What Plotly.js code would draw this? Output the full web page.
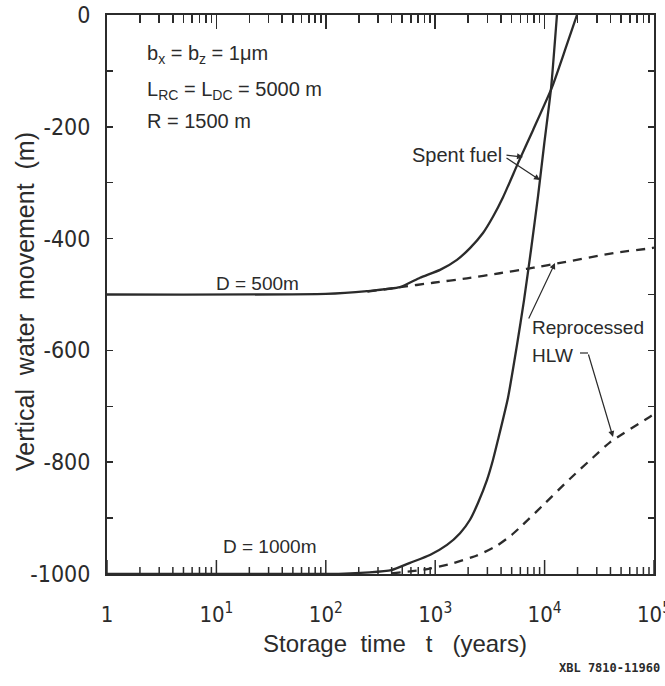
<!DOCTYPE html>
<html>
<head>
<meta charset="utf-8">
<script src="https://cdn.plot.ly/plotly-3.0.1.min.js"></script>
<style>
html,body{margin:0;padding:0;background:#fff;}
#chart{width:665px;height:686px;}
</style>
</head>
<body>
<div id="chart"></div>
<script>
// Spent fuel, D = 500 m
const spent500_t = [1, 100, 238, 476, 726, 1107, 1581, 2080, 2735, 3373, 4169, 5715, 7834, 11700, 15350, 19770];
const spent500_v = [-500, -499, -494, -487, -470, -456, -438, -417, -390, -361, -326, -265, -206, -129, -63, 0];
// Spent fuel, D = 1000 m
const spent1000_t = [1, 100, 251, 398, 589, 895, 1282, 1687, 2080, 2460, 2972, 3373, 3750, 4624, 5598, 6486, 7516, 8710, 9886, 11460, 12970];
const spent1000_v = [-1000, -1000, -997, -993, -980, -966, -948, -927, -903, -873, -832, -796, -760, -685, -590, -510, -420, -324, -233, -131, 0];
// Reprocessed HLW, D = 500 m
const hlw500_t = [240, 479, 955, 1950, 3890, 6920, 9120, 12600, 45700, 95500, 100000];
const hlw500_v = [-495, -487, -479, -471, -462, -454, -450, -445, -425, -417, -416];
// Reprocessed HLW, D = 1000 m
const hlw1000_t = [398, 794, 1380, 2400, 3630, 5010, 6310, 9550, 16980, 27540, 39810, 91200, 100000];
const hlw1000_v = [-999, -992, -982, -967, -950, -930, -912, -878, -830, -792, -764, -719, -714];

const xTickVals = [1, 10, 100, 1000, 10000, 100000];
const xTickText = ["1", "10<sup>1</sup>", "10<sup>2</sup>", "10<sup>3</sup>", "10<sup>4</sup>", "10<sup>5</sup>"];
const yTickVals = [0, -200, -400, -600, -800, -1000];
const yTickText = ["0", "-200", "-400", "-600", "-800", "-1000"];

const ink = '#2b2b2b';
const narrow = '"Liberation Sans Narrow", "DejaVu Sans Condensed", "Liberation Sans", sans-serif';
const sans = '"Liberation Sans", Arial, "DejaVu Sans", sans-serif';

const L = 107, R = 654, T = 15, B = 574;
const px = x => (x - L) / (R - L);
const py = y => (B - y) / (B - T);

const solid = {color: ink, width: 2.3, shape: 'spline', smoothing: 0.5};
const dashed = {color: ink, width: 2.3, dash: '9px,7px', shape: 'spline', smoothing: 0.5};

const traces = [
  {x: spent500_t, y: spent500_v, mode: 'lines', line: solid, hoverinfo: 'skip'},
  {x: spent1000_t, y: spent1000_v, mode: 'lines', line: solid, hoverinfo: 'skip'},
  {x: hlw500_t, y: hlw500_v, mode: 'lines', line: dashed, hoverinfo: 'skip'},
  {x: hlw1000_t, y: hlw1000_v, mode: 'lines', line: dashed, hoverinfo: 'skip'},
  {x: [], y: [], xaxis: 'x2', mode: 'lines', hoverinfo: 'skip'}
];

function txt(text, x, y, size, anchor, extra) {
  return Object.assign({text: text, xref: 'paper', yref: 'paper', x: px(x), y: py(y),
    xanchor: anchor || 'left', yanchor: 'middle', showarrow: false,
    font: {family: sans, size: size, color: ink}}, extra || {});
}
function arrow(hx, hy, tx, ty) {
  return {text: '', xref: 'paper', yref: 'paper', x: px(hx), y: py(hy),
    ax: tx - hx, ay: ty - hy, showarrow: true, arrowhead: 2, arrowsize: 1,
    arrowwidth: 1.2, arrowcolor: ink, standoff: 0, startstandoff: 0};
}

const nb = '\u00a0';
const annotations = [
  txt('b<sub>x</sub> = b<sub>z</sub> = 1μm', 145, 54, 20),
  txt('L<sub>RC</sub> = L<sub>DC</sub> = 5000 m', 145, 90, 20),
  txt('R = 1500 m', 145, 121, 20),
  txt('D = 500m', 214, 283, 19),
  txt('D = 1000m', 221, 546, 19),
  txt('Spent fuel', 504, 155, 20, 'right'),
  txt('Reprocessed', 530, 327, 19),
  txt('HLW', 530, 355, 19),
  arrow(523, 157, 505, 155),
  arrow(540, 180, 505, 157),
  arrow(555, 263, 528, 320),
  arrow(613, 437, 588, 353),
  txt('Vertical' + nb + ' water' + nb + ' movement' + nb + ' (m)', 25, 302, 25, 'center', {textangle: -90}),
  txt('Storage' + nb + nb + 'time' + nb + nb + ' t ' + nb + nb + '(years)', 395, 643, 24, 'center'),
  txt('<b>XBL 7810-11960</b>', 662, 668, 12, 'right', {font: {family: '"DejaVu Sans Mono", "Liberation Mono", monospace', size: 12, color: ink}})
];

// log-axis tick positions in decades (exponent units), for the bottom shapes and the top helper axis
const majorPos = [], minorPos = [];
for (let d = 0; d <= 5; d++) {
  for (let k = 1; k <= 9; k++) {
    if (d === 5 && k > 1) break;
    (k === 1 ? majorPos : minorPos).push(d + Math.log10(k));
  }
}

const shapes = [
  {type: 'line', xref: 'paper', yref: 'paper', x0: px(580), x1: px(588), y0: py(353), y1: py(353),
   line: {color: ink, width: 1.2}}
];
const H = B - T;
majorPos.concat(minorPos).forEach(p => {
  const xp = p / 5;
  const major = majorPos.indexOf(p) >= 0;
  shapes.push({type: 'line', xref: 'paper', yref: 'paper',
    x0: xp, x1: xp, y0: 0, y1: (major ? 14 : 7) / H, line: {color: ink, width: 1.5}});
});

const layout = {
  width: 665, height: 686,
  margin: {l: L, r: 665 - R, t: T, b: 686 - B},
  paper_bgcolor: '#fff', plot_bgcolor: '#fff',
  showlegend: false,
  xaxis: {
    type: 'log', range: [0, 5], tickmode: 'array', tickvals: xTickVals, ticktext: xTickText,
    ticks: '', showline: true, linewidth: 2, linecolor: ink, mirror: true,
    showgrid: false, zeroline: false, ticklabelstandoff: 20, ticklabeloverflow: 'allow',
    tickfont: {family: narrow, size: 22, color: ink}
  },
  xaxis2: {
    type: 'linear', range: [0, 5], overlaying: 'x', side: 'top', anchor: 'y',
    tickmode: 'array', tickvals: majorPos, showticklabels: false,
    ticks: 'inside', ticklen: 14, tickwidth: 1.6, tickcolor: ink,
    showline: false, showgrid: false, zeroline: false,
    minor: {tickmode: 'array', tickvals: minorPos, ticks: 'inside', ticklen: 8, tickwidth: 1.6, tickcolor: ink, showgrid: false}
  },
  yaxis: {
    range: [-1000, 0], tickmode: 'array', tickvals: yTickVals, ticktext: yTickText,
    ticks: 'inside', ticklen: 6, tickwidth: 1.5, tickcolor: ink,
    showline: true, linewidth: 2, linecolor: ink, mirror: 'allticks',
    showgrid: false, zeroline: false, ticklabelstandoff: 10,
    tickfont: {family: narrow, size: 23, color: ink},
    minor: {dtick: 100, tick0: 0, ticks: 'inside', ticklen: 6, tickwidth: 1.5, tickcolor: ink, showgrid: false}
  },
  annotations: annotations,
  shapes: shapes
};

Plotly.newPlot('chart', traces, layout, {staticPlot: true, displayModeBar: false});
</script>
</body>
</html>
